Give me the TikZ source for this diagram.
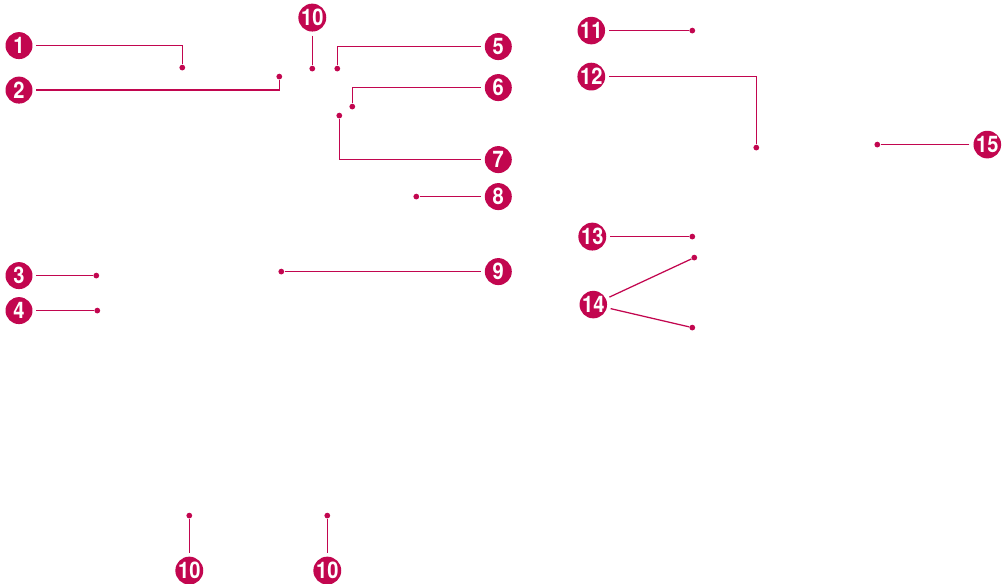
\documentclass[tikz,border=0pt]{standalone}
\usepackage{fontspec}
\setsansfont{TeX Gyre Heros}
\usepackage{tikz}
\definecolor{calloutRed}{HTML}{C2064F}
\newcommand{\narrow}[1]{\scalebox{0.88}[1]{#1}}
\tikzset{badge/.style={circle,fill=calloutRed,text=white,inner sep=0mm,outer sep=0.08cm,minimum size=0.54cm,font=\sffamily\bfseries\fontsize{13pt}{14pt}\selectfont}}
\tikzset{spot/.style={circle,fill=calloutRed,inner sep=0mm,minimum size=0.115cm}}
\tikzset{lead/.style={draw=calloutRed,line width=0.025cm}}

\begin{document}
\begin{tikzpicture}[x=0.02cm,y=-0.02cm]
\useasboundingbox (-0.3,-0.6) rectangle (1006.7,583.4);

\node[badge] at (18.7,45) (badge1) {\narrow{1}};
\node[badge] at (18.7,89.5) (badge2) {\narrow{2}};
\node[badge] at (18.7,275) (badge3) {\narrow{3}};
\node[badge] at (18.7,310) (badge4) {\narrow{4}};
\node[badge] at (498,46) (badge5) {\narrow{5}};
\node[badge] at (498,87) (badge6) {\narrow{6}};
\node[badge] at (498,159) (badge7) {\narrow{7}};
\node[badge] at (498,196) (badge8) {\narrow{8}};
\node[badge] at (498,271) (badge9) {\narrow{9}};
\node[badge] at (312,17) (badge10a) {\narrow{10}};
\node[badge] at (189,570) (badge10b) {\narrow{10}};
\node[badge] at (327,570) (badge10c) {\narrow{10}};
\node[badge] at (591,30) (badge11) {\narrow{11}};
\node[badge] at (591,76) (badge12) {\narrow{12}};
\node[badge] at (592,236) (badge13) {\narrow{13}};
\node[badge] at (593,304) (badge14) {\narrow{14}};
\node[badge] at (987,144) (badge15) {\narrow{15}};

\node[spot] at (182,67) (spot1) {};
\node[spot] at (279,76) (spot2) {};
\node[spot] at (96,275) (spot3) {};
\node[spot] at (97,310) (spot4) {};
\node[spot] at (337,68) (spot5) {};
\node[spot] at (352,106) (spot6) {};
\node[spot] at (339,115) (spot7) {};
\node[spot] at (416,196) (spot8) {};
\node[spot] at (281,271) (spot9) {};
\node[spot] at (312,68) (spot10a) {};
\node[spot] at (189,515) (spot10b) {};
\node[spot] at (327,515) (spot10c) {};
\node[spot] at (692,30) (spot11) {};
\node[spot] at (756,147) (spot12) {};
\node[spot] at (692,236) (spot13) {};
\node[spot] at (694,257) (spot14a) {};
\node[spot] at (692,327) (spot14b) {};
\node[spot] at (877,144) (spot15) {};

\draw[lead] (badge1) -| (spot1);
\draw[lead] (badge2) -| (spot2);
\draw[lead] (badge3) -- (spot3);
\draw[lead] (badge4) -- (spot4);
\draw[lead] (badge5) -| (spot5);
\draw[lead] (badge6) -| (spot6);
\draw[lead] (badge7) -| (spot7);
\draw[lead] (badge8) -- (spot8);
\draw[lead] (badge9) -- (spot9);
\draw[lead] (badge10a) -- (spot10a);
\draw[lead] (badge10b) -- (spot10b);
\draw[lead] (badge10c) -- (spot10c);
\draw[lead] (badge11) -- (spot11);
\draw[lead] (badge12) -| (spot12);
\draw[lead] (badge13) -- (spot13);
\draw[lead] (badge14) -- (spot14a);
\draw[lead] (badge14) -- (spot14b);
\draw[lead] (badge15) -- (spot15);

\end{tikzpicture}
\end{document}
